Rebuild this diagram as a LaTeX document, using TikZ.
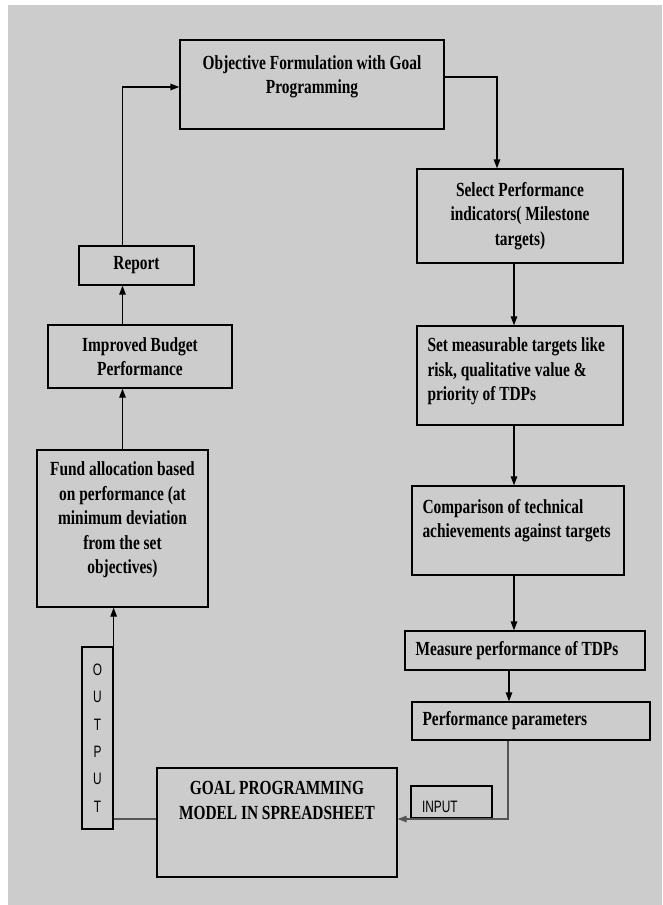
\documentclass[tikz,border=0pt]{standalone}
\usepackage{fontspec}
\usetikzlibrary{arrows.meta}
\newfontfamily\boxfont{Liberation Serif}[FakeStretch=0.77]
\newfontfamily\tagfont{Liberation Sans}[FakeStretch=0.72]
\definecolor{bggrey}{HTML}{CCCCCC}
\definecolor{linegrey}{HTML}{555555}
\begin{document}
\begin{tikzpicture}[x=1pt,y=-1pt,
    stage/.style={draw, line width=1.3pt, font=\boxfont\bfseries\fontsize{20}{24.5}\selectfont, align=center, inner sep=0pt},
    leftstage/.style={stage, align=flush left, inner xsep=10.5pt, execute at begin node={\spaceskip=0pt\xspaceskip=0pt}},
    tagbox/.style={draw, line width=1.3pt, font=\tagfont\fontsize{16.5}{27.3}\selectfont, inner sep=0pt},
    flow/.style={-{Triangle[length=9pt,width=6.5pt]}, line width=1.3pt}]
    \useasboundingbox (0,0) rectangle (662,905);
    \fill[bggrey] (8,5) rectangle (662,905);
    \node[stage, minimum width=264pt, minimum height=89pt, text depth=20pt] (obj) at (312,84.5) {Objective Formulation with Goal\\Programming};
    \node[stage, minimum width=206pt, minimum height=94pt] (select) at (520,216) {Select Performance\\indicators( Milestone\\targets)};
    \node[leftstage, text width=185pt, minimum height=99pt, text depth=61pt] (set) at (520,375.5) {Set measurable targets like\\risk, qualitative value \&\\priority of TDPs};
    \node[leftstage, text width=191pt, minimum height=89pt, text depth=49pt] (comp) at (518,530.5) {Comparison of technical\\achievements against targets};
    \node[leftstage, text width=219pt, minimum height=39pt] (measure) at (525,650.5) {Measure performance of TDPs};
    \node[leftstage, text width=217pt, minimum height=38pt] (perf) at (531,721) {Performance parameters};
    \node[stage, minimum width=240pt, minimum height=109pt, text depth=44pt] (goal) at (277,822.5) {GOAL PROGRAMMING\\MODEL IN SPREADSHEET};
    \node[tagbox, align=left, inner xsep=11pt, text width=59pt, minimum height=32pt, text height=22pt] (input) at (451.5,802) {INPUT};
    \node[tagbox, align=center, minimum width=31pt, minimum height=182pt] (output) at (97.5,738) {O\\U\\T\\P\\U\\T};
    \node[stage, minimum width=171pt, minimum height=157pt, text depth=21pt] (fund) at (122.5,528.5) {Fund allocation based\\on performance (at\\minimum deviation\\from the set\\objectives)};
    \node[stage, minimum width=184pt, minimum height=63pt] (improved) at (140,356.5) {Improved Budget\\Performance};
    \node[stage, minimum width=115pt, minimum height=39pt] (report) at (136.5,265.5) {Report};
    \draw[flow] ([yshift=7.5pt]obj.east) -| ([xshift=-23pt]select.north);
    \draw[flow] ([xshift=-6pt]select.south) -- ([xshift=-6pt]set.north);
    \draw[flow] ([xshift=-6pt]set.south) -- ([xshift=-6pt]set.south |- comp.north);
    \draw[flow] ([xshift=-4pt]comp.south) -- ([xshift=-4pt]comp.south |- measure.north);
    \draw[flow] ([xshift=-16pt]measure.south) -- ([xshift=-16pt]measure.south |- perf.north);
    \draw[flow, draw=linegrey] ([xshift=-23pt]perf.south) |- ([yshift=3.5pt]goal.east);
    \draw[line width=1.3pt, linegrey] ([yshift=3.5pt]goal.west) -- ([yshift=3.5pt]goal.west -| output.east);
    \draw[flow] (output.north east) -- (output.north east |- fund.south);
    \draw[flow] (fund.north) -- (fund.north |- improved.south);
    \draw[flow] (improved.north -| fund.north) -- (report.south -| fund.north);
    \draw[flow] (report.north -| fund.north) |- ([yshift=-2.5pt]obj.west);
\end{tikzpicture}
\end{document}
